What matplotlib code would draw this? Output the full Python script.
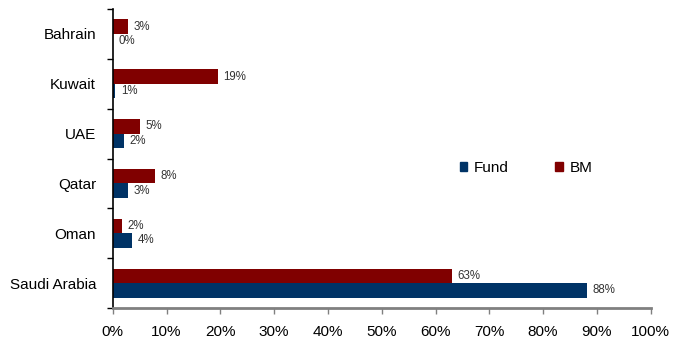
import matplotlib
matplotlib.use("Agg")
import matplotlib.pyplot as plt
from matplotlib.patches import Patch
from matplotlib.ticker import FixedLocator, PercentFormatter

plt.rcParams['font.family'] = ['Liberation Sans', 'DejaVu Sans']

categories = ["Saudi Arabia", "Oman", "Qatar", "UAE", "Kuwait", "Bahrain"]
fund = [88.2, 3.6, 2.8, 2.1, 0.5, 0.0]
bm = [63.1, 1.7, 7.9, 5.1, 19.6, 2.8]
fund_labels = ["88%", "4%", "3%", "2%", "1%", "0%"]
bm_labels = ["63%", "2%", "8%", "5%", "19%", "3%"]
xticks = [0, 10, 20, 30, 40, 50, 60, 70, 80, 90, 100]

FUND_C = "#003366"
BM_C = "#800000"

fig = plt.figure(figsize=(6.74, 3.39), dpi=100)
ax = fig.add_axes([112.7/674, 1 - 308/339, (650.7-112.7)/674, (308-9)/339])

h = 0.29
ys = list(range(len(categories)))
ax.barh([y + h/2 for y in ys], bm, height=h, color=BM_C)
ax.barh([y - h/2 for y in ys], fund, height=h, color=FUND_C)

for y, v, lab in zip(ys, bm, bm_labels):
    ax.annotate(lab, (v, y + h/2), xytext=(5.5, 0), textcoords="offset pixels",
                va="center", ha="left", fontsize=8.3, color="#333333")
for y, v, lab in zip(ys, fund, fund_labels):
    ax.annotate(lab, (v, y - h/2), xytext=(5.5, 0), textcoords="offset pixels",
                va="center", ha="left", fontsize=8.3, color="#333333")

ax.set_xlim(0, 100)
ax.set_ylim(-0.5, len(categories) - 0.5)
ax.xaxis.set_major_locator(FixedLocator(xticks))
ax.xaxis.set_major_formatter(PercentFormatter(decimals=0))
ax.set_yticks(ys)
ax.set_yticklabels(categories)
ax.yaxis.set_minor_locator(FixedLocator([y - 0.5 for y in ys] + [len(ys) - 0.5]))
ax.tick_params(axis='y', which='major', length=0, pad=12, labelsize=11)
ax.tick_params(axis='y', which='minor', length=4, width=1, color='black', direction='out')
ax.tick_params(axis='x', which='major', length=4, width=1, color='#808080', pad=8, labelsize=11)

for s in ["top", "right"]:
    ax.spines[s].set_visible(False)
ax.spines["left"].set_color("black")
ax.spines["left"].set_linewidth(1.2)
ax.spines["bottom"].set_color("#808080")
ax.spines["bottom"].set_linewidth(2)

handles = [Patch(color=FUND_C, label="Fund"), Patch(color=BM_C, label="BM")]
ax.legend(handles=handles, loc="center left", bbox_to_anchor=(0.645, 0.468),
          ncol=2, frameon=False, fontsize=11, handlelength=0.5, handleheight=0.5,
          handletextpad=0.45, columnspacing=3.0, borderpad=0, borderaxespad=0)

fig.savefig("out.png", dpi=100)
